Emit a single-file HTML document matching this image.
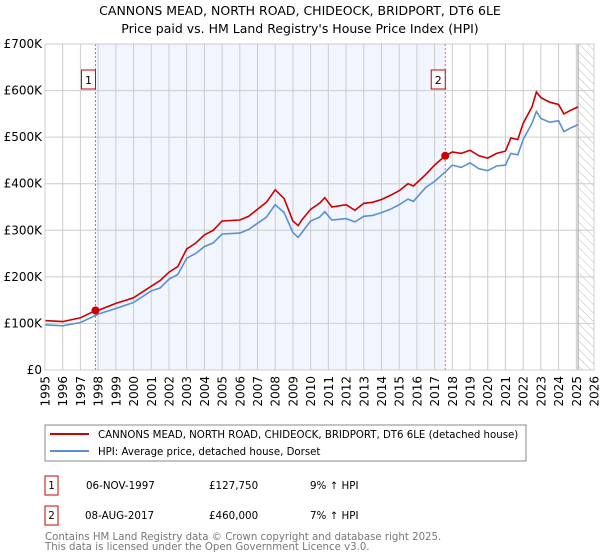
<!DOCTYPE html>
<html><head><meta charset="utf-8"><style>
body{margin:0;background:#fff}
svg{display:block;font-family:"DejaVu Sans","Liberation Sans",sans-serif}
</style></head><body>
<svg id="c" width="600" height="560" viewBox="0 0 600 560">
<defs><pattern id="hatch" width="6" height="6" patternUnits="userSpaceOnUse" patternTransform="rotate(-45)"><line x1="0" y1="0" x2="0" y2="6" stroke="#bbb" stroke-width="1"/></pattern></defs>
<text x="300" y="15" text-anchor="middle" font-size="12.5" fill="#000">CANNONS MEAD, NORTH ROAD, CHIDEOCK, BRIDPORT, DT6 6LE</text>
<text x="300" y="33" text-anchor="middle" font-size="12.5" fill="#000">Price paid vs. HM Land Registry's House Price Index (HPI)</text>
<g id="plot"></g>
<g>
<rect x="45" y="425" width="481" height="36" fill="#fff" stroke="#888"/>
<line x1="50" y1="434" x2="89" y2="434" stroke="#cc0000" stroke-width="2"/>
<text x="98" y="438" font-size="10.2">CANNONS MEAD, NORTH ROAD, CHIDEOCK, BRIDPORT, DT6 6LE (detached house)</text>
<line x1="50" y1="451" x2="89" y2="451" stroke="#5b8fd4" stroke-width="2"/>
<text x="98" y="455" font-size="10.2">HPI: Average price, detached house, Dorset</text>
</g>
<g font-size="10.3">
<rect x="45" y="476" width="13" height="19" fill="#fff" stroke="#cc0000"/>
<text x="51.5" y="489" text-anchor="middle">1</text>
<text x="86" y="489">06-NOV-1997</text>
<text x="209" y="489">£127,750</text>
<text x="310" y="489">9% ↑ HPI</text>
<rect x="45" y="506" width="13" height="19" fill="#fff" stroke="#cc0000"/>
<text x="51.5" y="519" text-anchor="middle">2</text>
<text x="85" y="519">08-AUG-2017</text>
<text x="209" y="519">£460,000</text>
<text x="310" y="519">7% ↑ HPI</text>
</g>
<text x="45" y="540" font-size="10.2" fill="#777">Contains HM Land Registry data © Crown copyright and database right 2025.</text>
<text x="45" y="550" font-size="10.2" fill="#777">This data is licensed under the Open Government Licence v3.0.</text>
</svg>
<script>
const redYears=[1995,1996,1997,1997.85,1998,1999,2000,2001,2001.5,2002,2002.5,2003,2003.5,2004,2004.5,2005,2006,2006.5,2007,2007.5,2008,2008.5,2009,2009.3,2009.5,2010,2010.5,2010.8,2011.2,2012,2012.5,2013,2013.5,2014,2014.5,2015,2015.5,2015.8,2016.5,2017,2017.6,2018,2018.5,2019,2019.5,2020,2020.5,2021,2021.3,2021.7,2022,2022.5,2022.75,2023,2023.5,2024,2024.3,2024.7,2025.1];
const redValues=[106,104,112,127.75,128,143,155,180,192,210,222,260,272,290,300,320,322,330,345,360,387,368,320,310,322,345,358,370,350,355,343,358,360,366,375,385,400,395,420,440,460,468,465,472,460,455,465,470,498,495,530,565,597,585,575,570,550,558,565];
const hpiValues=[97,95,102,117,120,132,145,170,176,195,205,240,250,265,273,292,294,302,315,328,355,338,295,285,295,320,328,340,322,325,318,330,332,338,345,355,367,362,392,405,425,440,435,445,432,428,438,440,465,462,495,530,555,540,532,535,512,520,527];
const yTicks=[0,100,200,300,400,500,600,700];
const yTickLabels=["£0","£100K","£200K","£300K","£400K","£500K","£600K","£700K"];
const xTicks=[1995,1996,1997,1998,1999,2000,2001,2002,2003,2004,2005,2006,2007,2008,2009,2010,2011,2012,2013,2014,2015,2016,2017,2018,2019,2020,2021,2022,2023,2024,2025,2026];
const saleYears=[1997.85,2017.6];
const salePrices=[127.75,460];
const saleLabels=["1","2"];
const X0=45,X1=594,Y0=370,Y1=44;
const x=v=>X0+(v-1995)/(2026-1995)*(X1-X0);
const y=v=>Y0-v/700*(Y0-Y1);
const NS="http://www.w3.org/2000/svg";
const g=document.getElementById('plot');
function mk(t,a,p){const e=document.createElementNS(NS,t);for(const k in a)e.setAttribute(k,a[k]);(p||g).appendChild(e);return e;}
const shade=mk('rect',{x:x(saleYears[0]),y:Y1,width:x(saleYears[1])-x(saleYears[0]),height:Y0-Y1,fill:'#eef3fc',opacity:0.8});


const hatch=mk('rect',{x:x(2025.1),y:Y1,width:X1-x(2025.1),height:Y0-Y1,fill:'url(#hatch)'});


xTicks.forEach(t=>{const l=mk('line',{x1:x(t),x2:x(t),y1:Y1,y2:Y0,stroke:'#ccc'});


const px=x(t)+4.5,py=Y0+6;
const tx=mk('text',{x:px,y:py,'text-anchor':'end','font-size':'12',transform:'rotate(-90 '+px+' '+py+')'});tx.textContent=t;

});
yTicks.forEach((t,i)=>{const l=mk('line',{x1:X0,x2:X1,y1:y(t),y2:y(t),stroke:'#ccc'});


const tx=mk('text',{x:X0-3,y:y(t)+4,'text-anchor':'end','font-size':'12'});tx.textContent=yTickLabels[i];

});
const edge=mk('line',{x1:x(2025.1),x2:x(2025.1),y1:Y1,y2:Y0,stroke:'#999'});


saleYears.forEach((s,i)=>{const l=mk('line',{x1:x(s),x2:x(s),y1:Y1,y2:Y0,stroke:'#e06070','stroke-dasharray':'2,2'});


const b=mk('rect',{x:x(s)-14,y:70,width:14,height:19,fill:'#fff',stroke:'#cc0000'});


const t=mk('text',{x:x(s)-7,y:84,'text-anchor':'middle','font-size':'11'});t.textContent=saleLabels[i];

});
const pts=v=>redYears.map((yr,i)=>x(yr).toFixed(1)+','+y(v[i]).toFixed(1)).join(' ');
const hl=mk('polyline',{points:pts(hpiValues),fill:'none',stroke:'#5b8fd4','stroke-width':1.6});


const rl=mk('polyline',{points:pts(redValues),fill:'none',stroke:'#cc0000','stroke-width':1.6});


saleYears.forEach((s,i)=>{const c=mk('circle',{cx:x(s),cy:y(salePrices[i]),r:4,fill:'#cc0000'});

});
const fr=mk('rect',{x:X0,y:Y1,width:X1-X0,height:Y0-Y1,fill:'none',stroke:'#ccc'});


</script>
</body></html>
